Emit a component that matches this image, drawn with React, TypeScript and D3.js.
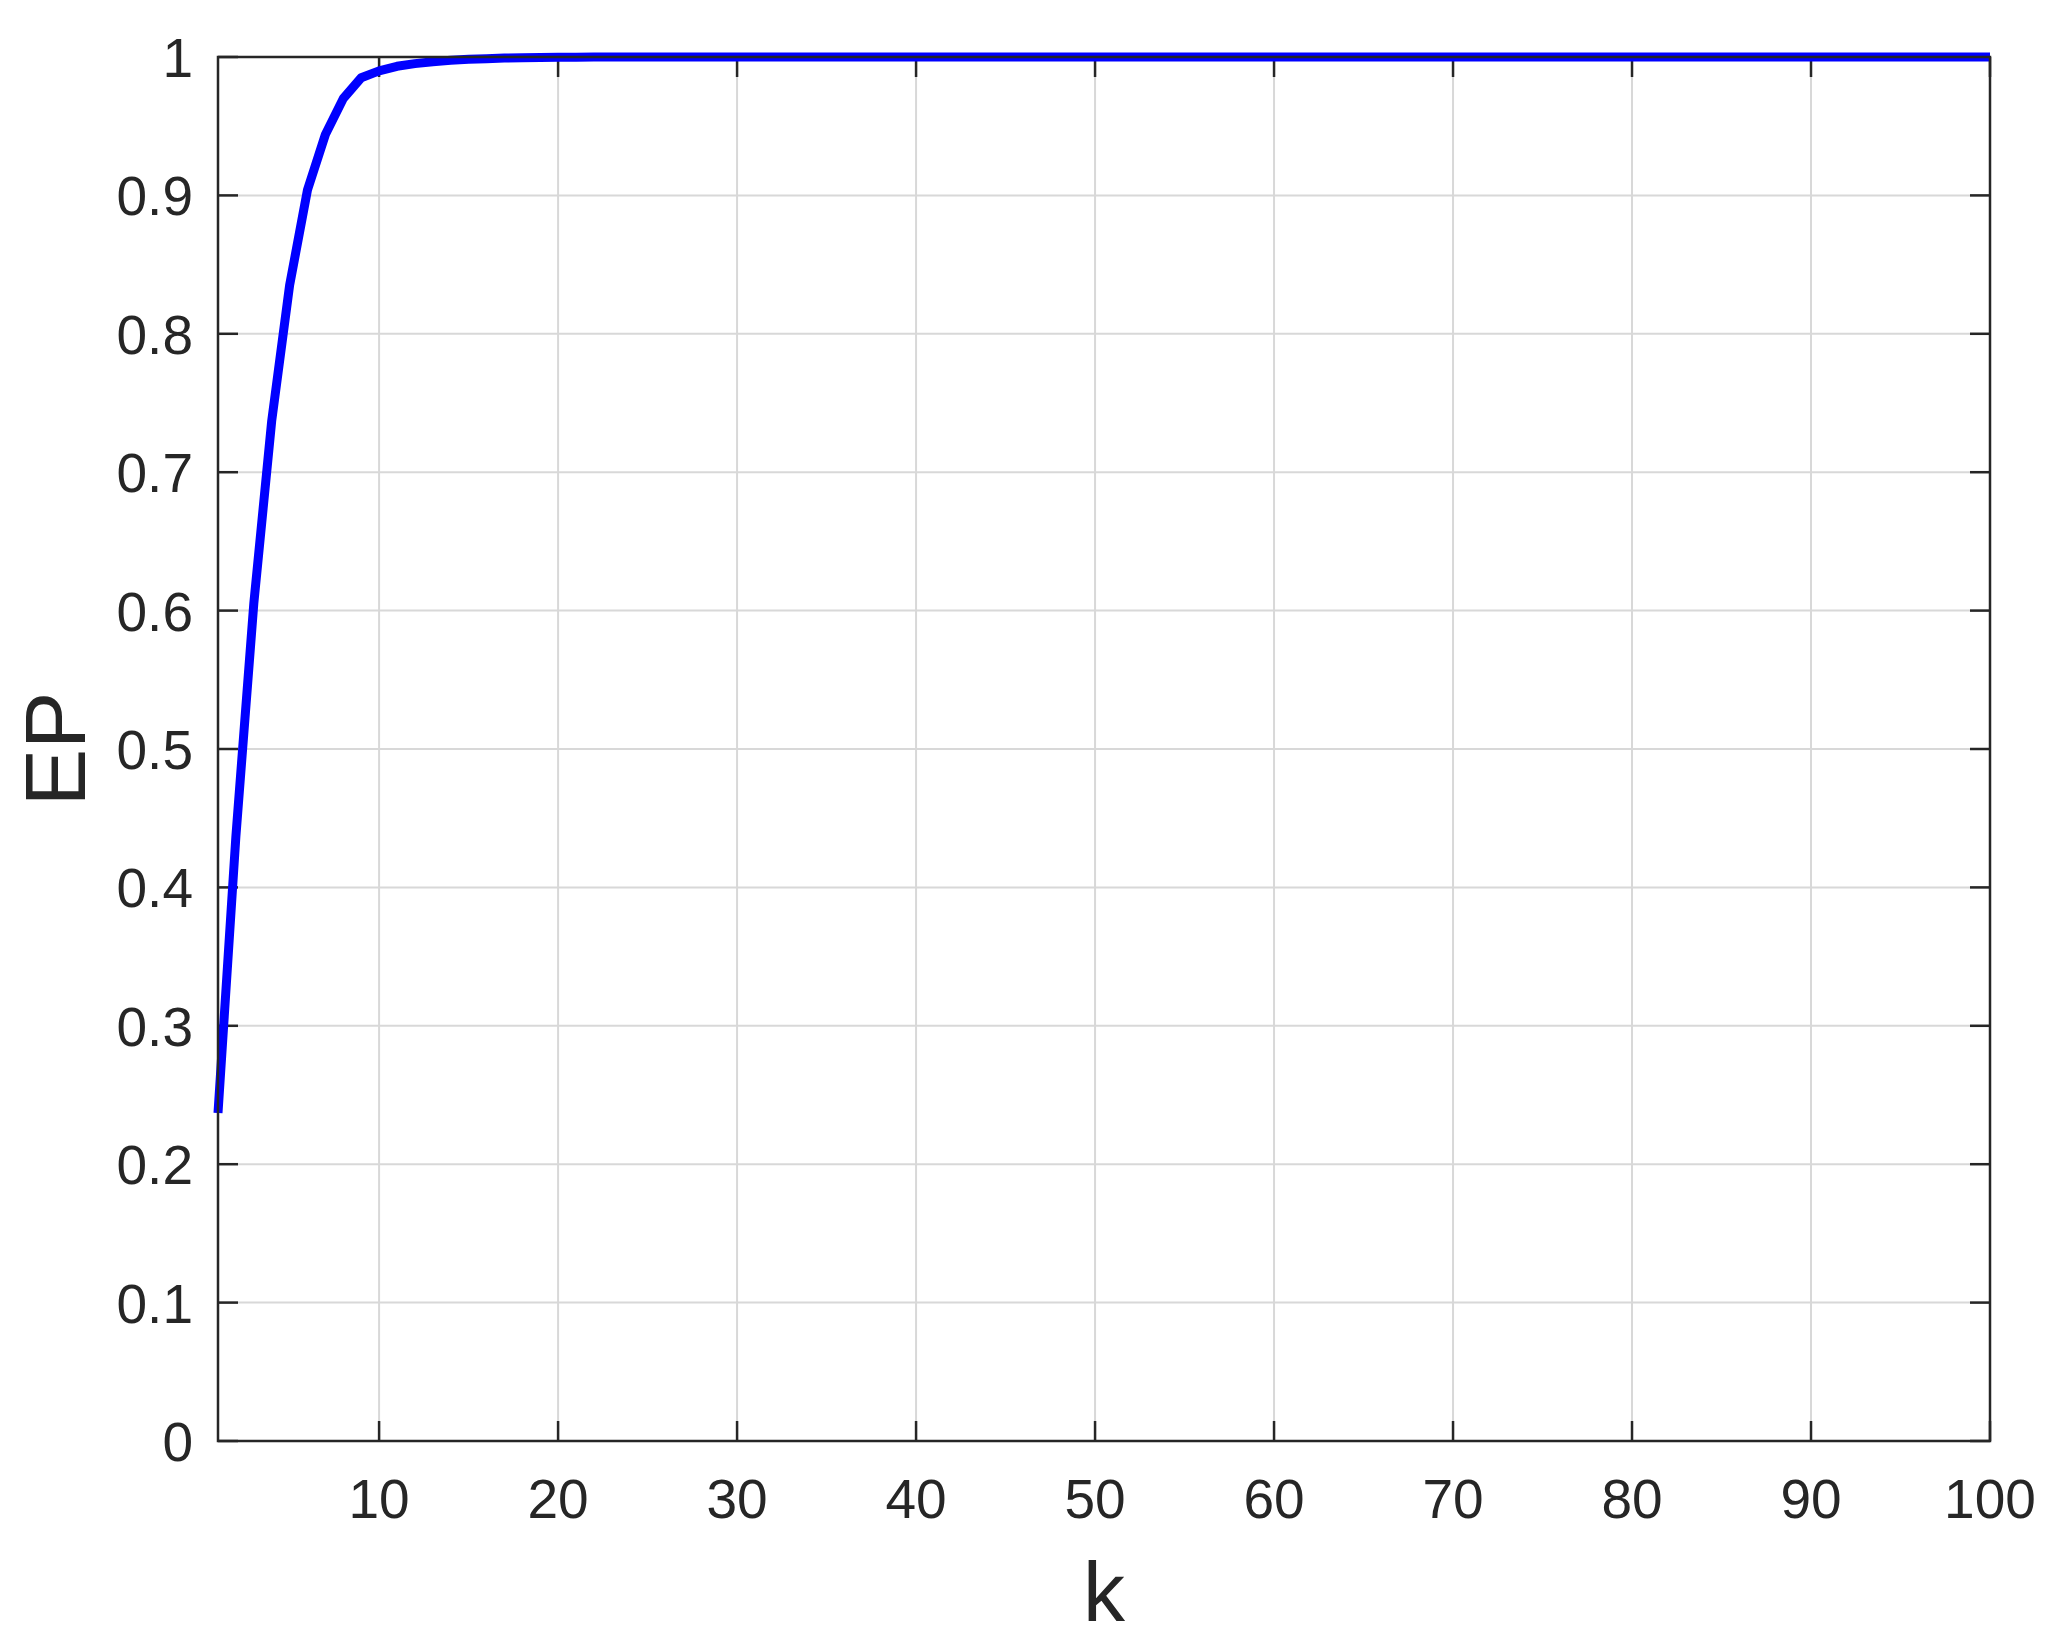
import React, { useRef, useEffect } from 'react';
import * as d3 from 'd3';

// k values (x axis)
const kValues: number[] = [
  1, 2, 3, 4, 5, 6, 7, 8, 9, 10,
  11, 12, 13, 14, 15, 16, 17, 18, 19, 20,
  21, 22, 23, 24, 25, 26, 27, 28, 29, 30,
  31, 32, 33, 34, 35, 36, 37, 38, 39, 40,
  41, 42, 43, 44, 45, 46, 47, 48, 49, 50,
  51, 52, 53, 54, 55, 56, 57, 58, 59, 60,
  61, 62, 63, 64, 65, 66, 67, 68, 69, 70,
  71, 72, 73, 74, 75, 76, 77, 78, 79, 80,
  81, 82, 83, 84, 85, 86, 87, 88, 89, 90,
  91, 92, 93, 94, 95, 96, 97, 98, 99, 100,
];

// EP values
const epValues: number[] = [
  0.237, 0.437, 0.605, 0.737, 0.835, 0.904, 0.944, 0.970, 0.985, 0.990,
  0.9933, 0.9952, 0.9966, 0.9976, 0.9983, 0.9988, 0.9992, 0.9995, 0.9997, 0.9998,
  0.9999, 1, 1, 1, 1, 1, 1, 1, 1, 1,
  1, 1, 1, 1, 1, 1, 1, 1, 1, 1,
  1, 1, 1, 1, 1, 1, 1, 1, 1, 1,
  1, 1, 1, 1, 1, 1, 1, 1, 1, 1,
  1, 1, 1, 1, 1, 1, 1, 1, 1, 1,
  1, 1, 1, 1, 1, 1, 1, 1, 1, 1,
  1, 1, 1, 1, 1, 1, 1, 1, 1, 1,
  1, 1, 1, 1, 1, 1, 1, 1, 1, 1,
];

const xTicks: number[] = [10, 20, 30, 40, 50, 60, 70, 80, 90, 100];
const yTicks: number[] = [0, 0.1, 0.2, 0.3, 0.4, 0.5, 0.6, 0.7, 0.8, 0.9, 1];

const width = 2050;
const height = 1646;

const EPChart = () => {
  const svgRef = useRef<SVGSVGElement>(null);

  useEffect(() => {
    const svg = d3.select(svgRef.current);
    svg.selectAll('*').remove();

    const margin = { top: 57, right: 60, bottom: 205, left: 218 };
    const x0 = margin.left, x1 = width - margin.right;
    const y0 = height - margin.bottom, y1 = margin.top;

    const xScale = d3.scaleLinear().domain([1, 100]).range([x0, x1]);
    const yScale = d3.scaleLinear().domain([0, 1]).range([y0, y1]);

    const ink = '#262626';
    const font = '"Liberation Sans", Arial, Helvetica, sans-serif';
    const tickLen = 20;

    svg.append('rect')
      .attr('width', width).attr('height', height).attr('fill', '#ffffff');

    // grid
    const grid = svg.append('g').attr('stroke', '#d8d8d8').attr('stroke-width', 2);
    grid.selectAll('.gx').data(xTicks.filter(d => d < 100)).enter().append('line')
      .attr('x1', d => xScale(d)).attr('x2', d => xScale(d))
      .attr('y1', y0).attr('y2', y1);
    grid.selectAll('.gy').data(yTicks.filter(d => d > 0 && d < 1)).enter().append('line')
      .attr('y1', d => yScale(d)).attr('y2', d => yScale(d))
      .attr('x1', x0).attr('x2', x1);

    // ticks (inward, on all four sides)
    const ticks = svg.append('g').attr('stroke', ink).attr('stroke-width', 2.5);
    xTicks.forEach(t => {
      ticks.append('line').attr('x1', xScale(t)).attr('x2', xScale(t))
        .attr('y1', y0).attr('y2', y0 - tickLen);
      ticks.append('line').attr('x1', xScale(t)).attr('x2', xScale(t))
        .attr('y1', y1).attr('y2', y1 + tickLen);
    });
    yTicks.forEach(t => {
      ticks.append('line').attr('y1', yScale(t)).attr('y2', yScale(t))
        .attr('x1', x0).attr('x2', x0 + tickLen);
      ticks.append('line').attr('y1', yScale(t)).attr('y2', yScale(t))
        .attr('x1', x1).attr('x2', x1 - tickLen);
    });

    // curve
    const line = d3.line<number>()
      .x((d, i) => xScale(kValues[i]))
      .y(d => yScale(d));

    svg.append('path')
      .datum(epValues)
      .attr('d', line)
      .attr('fill', 'none')
      .attr('stroke', '#0000ff')
      .attr('stroke-width', 9)
      .attr('stroke-linejoin', 'round');

    // box
    svg.append('rect')
      .attr('x', x0).attr('y', y1)
      .attr('width', x1 - x0).attr('height', y0 - y1)
      .attr('fill', 'none').attr('stroke', ink).attr('stroke-width', 2.5);

    // tick labels
    svg.append('g').selectAll('text').data(xTicks).enter().append('text')
      .attr('x', d => xScale(d)).attr('y', y0 + 77)
      .attr('text-anchor', 'middle')
      .attr('font-family', font).attr('font-size', 55).attr('fill', ink)
      .text(d => d);

    svg.append('g').selectAll('text').data(yTicks).enter().append('text')
      .attr('x', x0 - 25).attr('y', d => yScale(d) + 20)
      .attr('text-anchor', 'end')
      .attr('font-family', font).attr('font-size', 55).attr('fill', ink)
      .text(d => String(d));

    // axis labels
    svg.append('text')
      .attr('x', (x0 + x1) / 2).attr('y', 1621)
      .attr('text-anchor', 'middle')
      .attr('font-family', font).attr('font-size', 84).attr('fill', ink)
      .text('k');

    svg.append('text')
      .attr('transform', `translate(85, ${(y0 + y1) / 2}) rotate(-90)`)
      .attr('text-anchor', 'middle')
      .attr('font-family', font).attr('font-size', 86).attr('fill', ink)
      .text('EP');
  }, []);

  return <svg ref={svgRef} width={width} height={height} style={{ display: 'block' }} />;
};

export default function App() {
  return (
    <div style={{ position: 'absolute', left: 0, top: 0 }}>
      <EPChart />
    </div>
  );
}
